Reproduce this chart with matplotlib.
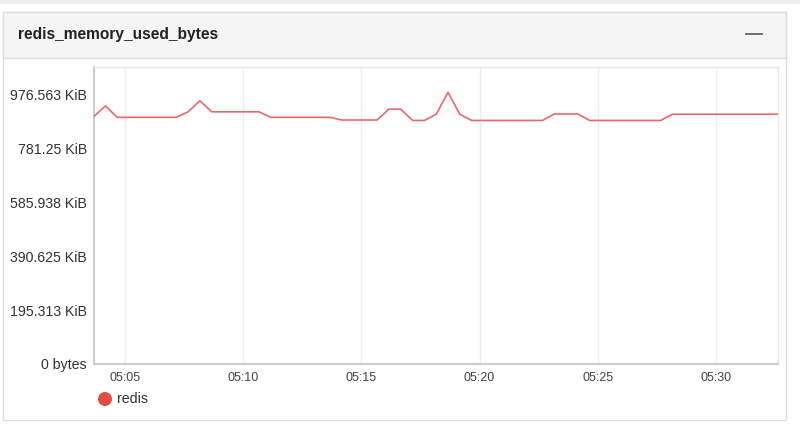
import matplotlib
matplotlib.use("Agg")
import matplotlib.pyplot as plt
from matplotlib.patches import Rectangle, Circle
import pandas as pd

# ---- data ----
title = "redis_memory_used_bytes"
series_name = "redis"
start_time = "2024-01-01 05:03:40"
step = "30s"
values = [916000, 955600, 913600, 913600, 913600, 913600, 913600, 913600, 934000, 975000,
          934000, 934000, 934000, 934000, 934000, 913600, 913600, 913600, 913600, 913600,
          913600, 903700, 903700, 903700, 903700, 944000, 944000, 902000, 902000, 925000,
          1006000, 925000, 902000, 902000, 902000, 902000, 902000, 902000, 902000, 926000,
          926000, 926000, 902000, 902000, 902000, 902000, 902000, 902000, 902000, 925000,
          925000, 925000, 925000, 925000, 925000, 925000, 925000, 925000, 925000]
y_ticks = [0, 200000, 400000, 600000, 800000, 1000000]
y_tick_labels = ["0 bytes", "195.313 KiB", "390.625 KiB", "585.938 KiB", "781.25 KiB", "976.563 KiB"]
x_ticks = ["05:05", "05:10", "05:15", "05:20", "05:25", "05:30"]
x_range = ["2024-01-01 05:03:41", "2024-01-01 05:32:38"]
y_max = 1100000

times = pd.date_range(start_time, periods=len(values), freq=step)

W, H = 800, 437
fig = plt.figure(figsize=(W / 100, H / 100), dpi=100)
fig.patch.set_facecolor("white")

def fx(x):
    return x / W

def fy(y):
    return 1 - y / H

FONT = "Liberation Sans"

# top strip (previous panel border)
fig.patches.append(Rectangle((0, fy(4)), 1, 4 / H, transform=fig.transFigure,
                             facecolor="#eeeeee", edgecolor="none", zorder=0))
# card
fig.patches.append(Rectangle((fx(3), fy(420)), (786 - 3) / W, (420 - 12) / H,
                             transform=fig.transFigure, facecolor="white",
                             edgecolor="#dddddd", linewidth=1, zorder=0))
# header
fig.patches.append(Rectangle((fx(3), fy(58)), (786 - 3) / W, (58 - 12) / H,
                             transform=fig.transFigure, facecolor="#f5f5f5",
                             edgecolor="#dddddd", linewidth=1, zorder=1))
fig.text(fx(18), fy(34), title, family=FONT, fontsize=11.2, fontweight="bold",
         color="#222222", va="center", ha="left")
fig.lines.append(plt.Line2D([fx(746), fx(762)], [fy(34), fy(34)], transform=fig.transFigure,
                            color="#666666", linewidth=1.3))

ax = fig.add_axes([fx(94), fy(364), (778 - 94) / W, (364 - 67) / H])
ax.set_zorder(5)
ax.set_facecolor("white")
ax.plot(times, values, color="#e8686a", linewidth=1.2, zorder=3)

ax.set_ylim(0, y_max)
ax.set_yticks(y_ticks)
ax.set_yticklabels(y_tick_labels, family=FONT, fontsize=10.2, color="#333333")
ax.set_xlim(pd.Timestamp(x_range[0]), pd.Timestamp(x_range[1]))
xt = [pd.Timestamp("2024-01-01 " + t + ":00") for t in x_ticks]
ax.set_xticks(xt)
ax.set_xticklabels(x_ticks, family=FONT, fontsize=9, color="#444444")
ax.tick_params(axis="both", length=0)
ax.tick_params(axis="y", pad=5)
ax.tick_params(axis="x", pad=6)
ax.grid(axis="x", color="#eeeeee", linewidth=1)
ax.grid(axis="y", visible=False)
ax.set_axisbelow(True)
for s in ["left", "bottom"]:
    ax.spines[s].set_color("#cccccc")
    ax.spines[s].set_linewidth(1.5)
for s in ["top", "right"]:
    ax.spines[s].set_color("#e6e6e6")
    ax.spines[s].set_linewidth(1)

# legend
dot = Circle((105 / 100, (H - 399) / 100), 7 / 100, transform=fig.dpi_scale_trans,
             facecolor="#e24d42", edgecolor="none", zorder=6)
fig.patches.append(dot)
fig.text(fx(117), fy(399), series_name, family=FONT, fontsize=10.2, color="#333333",
         va="center", ha="left", zorder=6)

fig.savefig("out.png", dpi=100)
